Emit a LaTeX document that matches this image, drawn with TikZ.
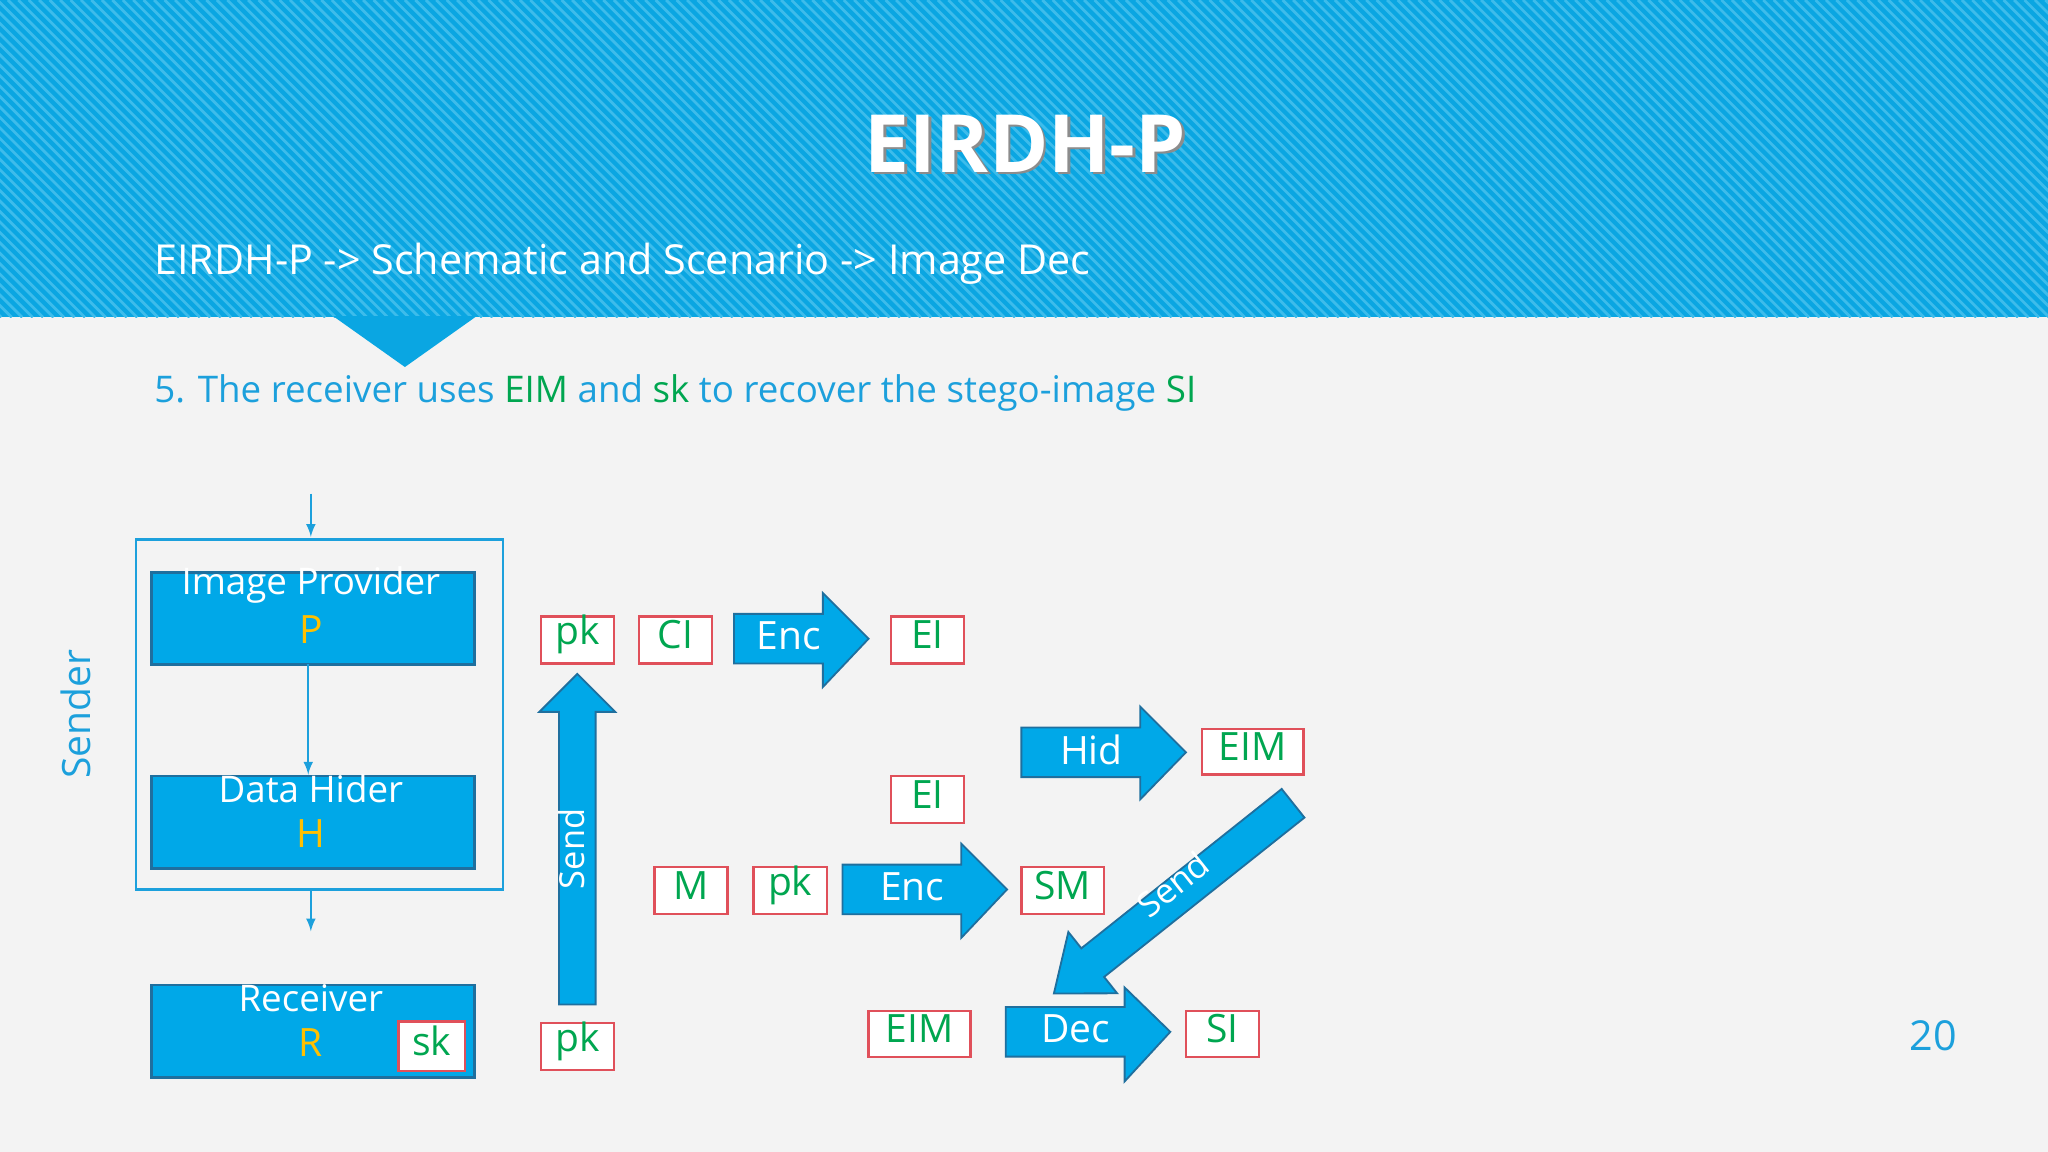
\documentclass[tikz,border=0pt]{standalone}
\usepackage{fontspec}
\setmainfont{Open Sans}
\definecolor{hdr}{HTML}{0AA6E2}
\definecolor{hdrl}{HTML}{3DBCEB}
\definecolor{bl}{HTML}{00A8E8}
\definecolor{bdr}{HTML}{1F6F9E}
\definecolor{txtb}{HTML}{1CA0DC}
\definecolor{gr}{HTML}{00A650}
\definecolor{yl}{HTML}{FFC000}
\definecolor{rd}{HTML}{E0505A}
\definecolor{bg}{HTML}{F3F3F3}
\newcommand{\fs}[1]{\fontsize{#1}{#1}\selectfont}
\begin{document}
\begin{tikzpicture}[x=0.02cm,y=-0.02cm,
  bigbox/.style={draw=bdr,line width=1.2pt,fill=bl},
  sbox/.style={draw=rd,line width=1pt,fill=white},
  stxt/.style={text=gr,font=\fs{17}},
  btxt/.style={text=white,font=\fs{17}},
  blk/.style={draw=bdr,line width=0.8pt,fill=bl},
  thin/.style={txtb,line width=0.9pt,-{latex}}]
\useasboundingbox (0,0) rectangle (1568,882);
\fill[bg] (0,0) rectangle (1568,882);
% header
\fill[hdr] (0,0) rectangle (1568,243);
\begin{scope}
\clip (0,0) rectangle (1568,243);
\foreach \i in {-250,-242,...,1570} \draw[hdrl,line width=1.2pt] (\i,0) -- (\i+243,243);
\end{scope}
\fill[hdr] (255,242) -- (365,242) -- (310,281) -- cycle;
\node[text=black!45,font=\fs{35}\bfseries] at (787,112) {EIRDH-P};
\node (title) [text=white,font=\fs{35}\bfseries] at (785,110) {EIRDH-P};
\node (sub) [anchor=west,text=white,font=\fs{18}] at (112,202) {EIRDH-P -> Schematic and Scenario -> Image Dec};
\node (step) [anchor=west,text=txtb,font=\fs{16}] at (112,301) {5. The receiver uses \textcolor{gr}{EIM} and \textcolor{gr}{sk} to recover the stego-image \textcolor{gr}{SI}};
\node (sender) [rotate=90,text=txtb,font=\fs{17}] at (58,547) {Sender};
\node (num) [text=txtb,font=\fs{18}] at (1480,793) {20};
% sender frame
\draw[txtb,line width=1pt] (104,413) rectangle (385,681);
\coordinate (t0) at (238,378); \coordinate (t1) at (238,411);
\draw[thin] (t0) -- (t1);
\node (P) [bigbox,inner sep=0,anchor=north west,minimum width=4.94cm,minimum height=1.42cm] at (115,437) {};
\node[btxt,font=\fs{16}] at (238,448) {Image Provider};
\node[text=yl,font=\fs{17}] at (238,482) {P};
\node (H) [bigbox,inner sep=0,anchor=north west,minimum width=4.94cm,minimum height=1.42cm] at (115,593) {};
\node[btxt,font=\fs{16}] at (238,604) {Data Hider};
\node[text=yl,font=\fs{17}] at (238,638) {H};
\draw[thin] (236,508) -- (H.north-|236,0);
\coordinate (t2) at (238,682); \coordinate (t3) at (238,713);
\draw[thin] (t2) -- (t3);
\node (R) [bigbox,inner sep=0,anchor=north west,minimum width=4.94cm,minimum height=1.42cm] at (115,753) {};
\node[btxt,font=\fs{16}] at (238,764) {Receiver};
\node[text=yl,font=\fs{17}] at (238,798) {R};
% small boxes
\foreach \n/\t/\xa/\ya/\xb/\yb in {sk/sk/305/782/356/820, pk1/pk/414/472/470/508, ci/CI/489/472/545/508, ei1/EI/682/472/738/508, eim1/EIM/920/558/998/593, ei2/EI/682/594/738/630, m/M/501/664/557/700, pk2/pk/577/664/633/700, sm/SM/782/664/845/700, eim2/EIM/665/774/743/809, si/SI/908/774/964/809, pk3/pk/414/783/470/819}{
  \draw[sbox] (\xa,\ya) rectangle (\xb,\yb);
  \node (\n) [stxt] at ({(\xa+\xb)/2},{(\ya+\yb)/2-4}) {\t};
}
\foreach \n/\t/\xa/\xb/\xc/\ya/\yb/\ha/\hb in {enc1/Enc/562/630/665/470/508/454/526, hid/Hid/782/873/908/557/595/541/612, enc2/Enc/645/736/771/662/700/646/718, dec/Dec/770/861/896/771/809/756/828}{
  \draw[blk] (\xa,\ya) -- (\xb,\ya) -- (\xb,\ha) -- (\xc,{(\ya+\yb)/2}) -- (\xb,\hb) -- (\xb,\yb) -- (\xa,\yb) -- cycle;
  \node (\n) [btxt] at ({(\xa+\xb)/2+8},{(\ya+\yb)/2-2}) {\t};
}
% up send arrow
\draw[blk] (428,769) -- (456,769) -- (456,545) -- (471,545) -- (442,516) -- (413,545) -- (428,545) -- cycle;
\node (send1) [btxt,rotate=90,font=\fs{15}] at (438,650) {Send};
% diagonal send arrow
\begin{scope}[shift={(990,615)},rotate=218.5]
\draw[blk] (0,-14) -- (196,-14) -- (196,-30) -- (234,0) -- (196,30) -- (196,14) -- (0,14) -- cycle;
\end{scope}
\node (send2) [btxt,rotate=38.5,font=\fs{15}] at (898,677) {Send};
\end{tikzpicture}
\end{document}
